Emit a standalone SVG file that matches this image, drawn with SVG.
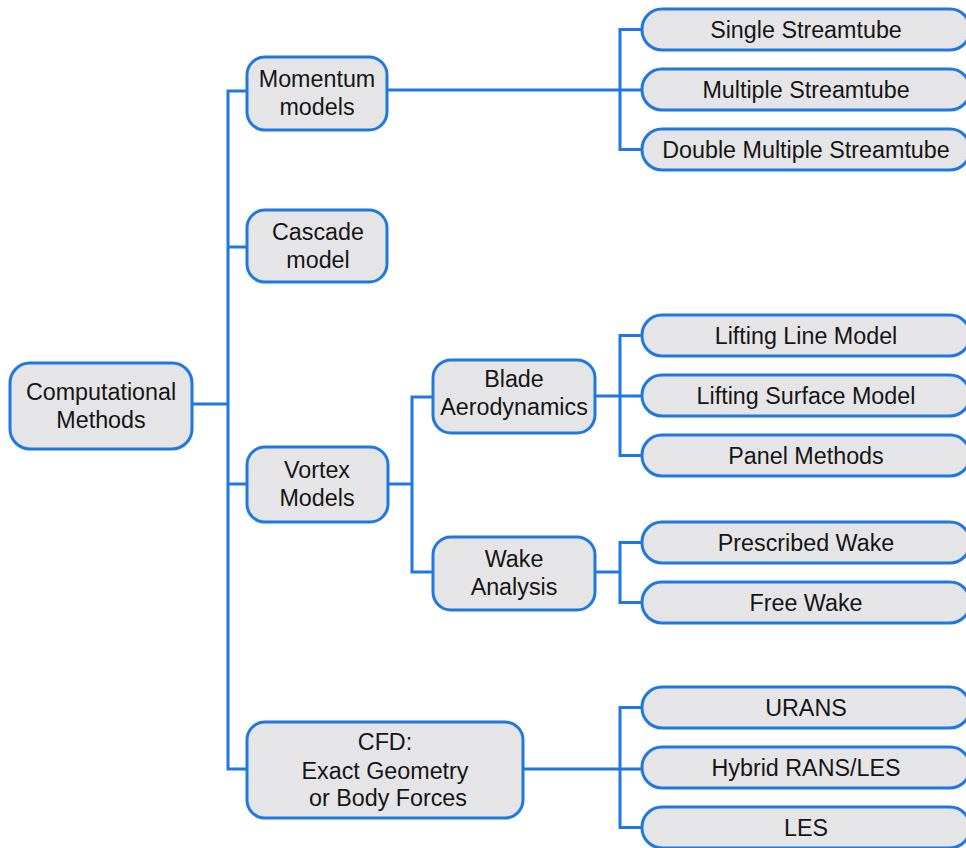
<svg xmlns="http://www.w3.org/2000/svg" width="966" height="848" viewBox="0 0 966 848">
<style>
.n{fill:#e5e5e7;stroke:#1f78e0;stroke-width:3}
.c{fill:none;stroke:#1f78e0;stroke-width:3}
text{font-family:"Liberation Sans",Arial,sans-serif;font-size:23.3px;fill:#151515;text-anchor:middle}
</style>
<rect width="966" height="848" fill="#ffffff"/>
<g id="connectors">
<path class="c" d="M192,404 H228"/>
<path class="c" d="M247,91 H228 V769 H247"/>
<path class="c" d="M228,247 H247"/>
<path class="c" d="M228,484 H247"/>
<path class="c" d="M387,90 H642"/>
<path class="c" d="M642,29.5 H620 V149.5 H642"/>
<path class="c" d="M388,484 H412"/>
<path class="c" d="M433,397 H412 V572 H433"/>
<path class="c" d="M595,396 H642"/>
<path class="c" d="M642,335.5 H620 V455.5 H642"/>
<path class="c" d="M595,572 H620"/>
<path class="c" d="M642,542.5 H620 V602.5 H642"/>
<path class="c" d="M523,769 H642"/>
<path class="c" d="M642,707.5 H620 V827.5 H642"/>
</g>
<g id="computational">
<rect class="n" x="10" y="363" width="182" height="86" rx="20"/>
<text x="101" y="400">Computational</text>
<text x="101" y="428">Methods</text>
</g>
<g id="momentum">
<rect class="n" x="247" y="57" width="140" height="73" rx="18"/>
<text x="317" y="87">Momentum</text>
<text x="317" y="115">models</text>
</g>
<g id="cascade">
<rect class="n" x="247" y="210" width="140" height="72" rx="18"/>
<text x="318" y="240">Cascade</text>
<text x="318" y="268">model</text>
</g>
<g id="vortex">
<rect class="n" x="247" y="447" width="141" height="75" rx="18"/>
<text x="317" y="478">Vortex</text>
<text x="317" y="506">Models</text>
</g>
<g id="blade">
<rect class="n" x="433" y="360" width="162" height="73" rx="18"/>
<text x="514" y="387">Blade</text>
<text x="514" y="415">Aerodynamics</text>
</g>
<g id="wake">
<rect class="n" x="433" y="537" width="162" height="73" rx="18"/>
<text x="514" y="567">Wake</text>
<text x="514" y="595">Analysis</text>
</g>
<g id="cfd">
<rect class="n" x="247" y="722" width="276" height="96" rx="18"/>
<text x="385" y="750">CFD:</text>
<text x="385" y="779">Exact Geometry</text>
<text x="388" y="806">or Body Forces</text>
</g>
<g id="single">
<rect class="n" x="642" y="9" width="328" height="41" rx="20"/>
<text x="806" y="37.5">Single Streamtube</text>
</g>
<g id="multiple">
<rect class="n" x="642" y="69" width="328" height="41" rx="20"/>
<text x="806" y="97.5">Multiple Streamtube</text>
</g>
<g id="double">
<rect class="n" x="642" y="129" width="328" height="41" rx="20"/>
<text x="806" y="157.5">Double Multiple Streamtube</text>
</g>
<g id="liftingline">
<rect class="n" x="642" y="315" width="328" height="41" rx="20"/>
<text x="806" y="343.5">Lifting Line Model</text>
</g>
<g id="liftingsurface">
<rect class="n" x="642" y="375" width="328" height="41" rx="20"/>
<text x="806" y="403.5">Lifting Surface Model</text>
</g>
<g id="panel">
<rect class="n" x="642" y="435" width="328" height="41" rx="20"/>
<text x="806" y="463.5">Panel Methods</text>
</g>
<g id="prescribed">
<rect class="n" x="642" y="522" width="328" height="41" rx="20"/>
<text x="806" y="550.5">Prescribed Wake</text>
</g>
<g id="free">
<rect class="n" x="642" y="582" width="328" height="41" rx="20"/>
<text x="806" y="610.5">Free Wake</text>
</g>
<g id="urans">
<rect class="n" x="642" y="687" width="328" height="41" rx="20"/>
<text x="806" y="715.5">URANS</text>
</g>
<g id="hybrid">
<rect class="n" x="642" y="747" width="328" height="41" rx="20"/>
<text x="806" y="775.5">Hybrid RANS/LES</text>
</g>
<g id="les">
<rect class="n" x="642" y="807" width="328" height="41" rx="20"/>
<text x="806" y="835.5">LES</text>
</g>
</svg>
